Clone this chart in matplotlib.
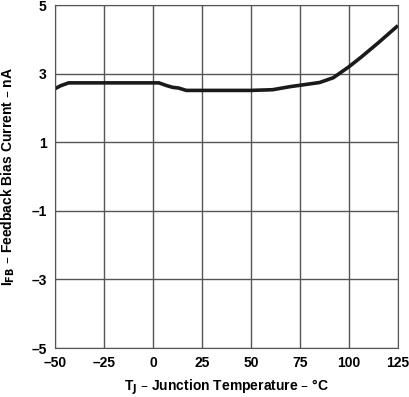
import numpy as np
import matplotlib.pyplot as plt

plt.rcParams['font.family'] = ['Liberation Sans', 'DejaVu Sans']

# junction temperature (C) and feedback bias current (nA)
temp = [-50, -47, -43, -30, 0, 3, 7, 10, 13, 17, 30, 50, 61, 70, 80, 85, 92, 100, 106, 115, 125]
ifb = [2.56, 2.65, 2.73, 2.73, 2.73, 2.73, 2.65, 2.60, 2.58, 2.51, 2.51, 2.51, 2.53, 2.62, 2.70, 2.74, 2.88, 3.2, 3.47, 3.9, 4.4]

xticks = [-50, -25, 0, 25, 50, 75, 100, 125]
yticks = [-5, -3, -1, 1, 3, 5]

fig = plt.figure(figsize=(4.09, 3.97), dpi=100)
ax = fig.add_axes([0.1345, 0.1234, 0.8385, 0.864])
ax.plot(temp, ifb, color='#1a1a1a', lw=2.6, solid_capstyle='butt')
ax.set_xlim(-50, 125)
ax.set_ylim(-5, 5)
ax.set_xticks(xticks)
ax.set_yticks(yticks)
ax.set_xticklabels([str(t).replace('-', '\u2013') for t in xticks], fontweight='bold', fontsize=10)
ax.set_yticklabels([str(t).replace('-', '\u2013') for t in yticks], fontweight='bold', fontsize=10)
ax.tick_params(length=0, pad=6)
ax.grid(True, color='#555555', lw=1)
for s in ax.spines.values():
    s.set_color('#555555')
ax.set_xlabel('T$_\\mathbf{J}$ \u2013 Junction Temperature \u2013 \u00b0C', fontweight='bold', fontsize=10, labelpad=5)
ax.set_ylabel('I$_\\mathbf{FB}$ \u2013 Feedback Bias Current \u2013 nA', fontweight='bold', fontsize=10, labelpad=10)
fig.savefig('out.png', dpi=100)
